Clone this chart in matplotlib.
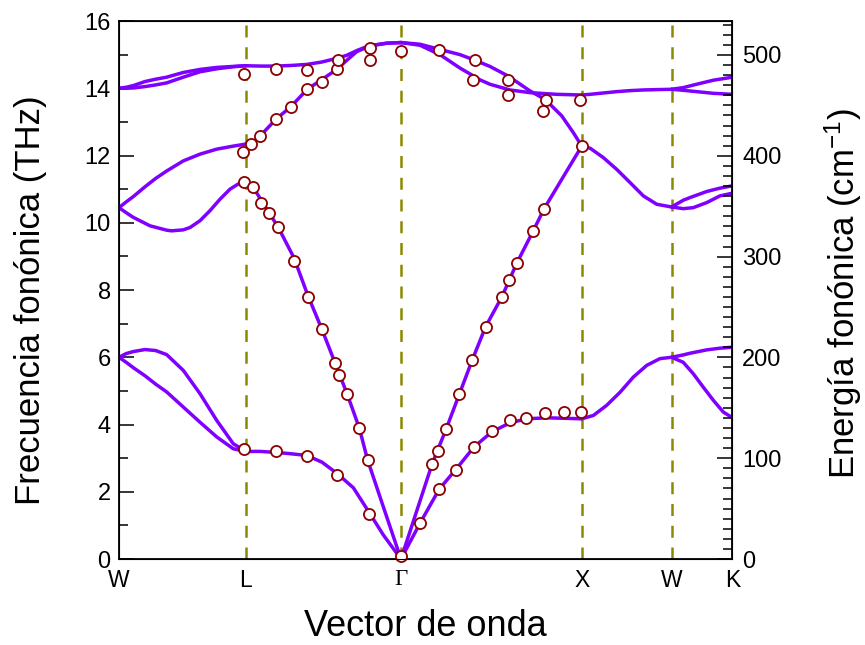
import matplotlib
matplotlib.use('Agg')
import matplotlib.pyplot as plt
from matplotlib.ticker import MultipleLocator

# puntos de alta simetria (distancia a lo largo del camino, 2pi/a)
sym_k = [0.0, 0.708, 1.575, 2.585, 3.087, 3.427]
sym_labels = ['W', 'L', 'Γ', 'X', 'W', 'K']

# W - L
wl_k = [0.0, 0.040, 0.080, 0.145, 0.205, 0.266, 0.359, 0.452, 0.546, 0.638, 0.708]
wl_opt1 = [14.0, 14.03, 14.08, 14.2, 14.27, 14.33, 14.47, 14.56, 14.62, 14.65, 14.67]
wl_opt2 = [14.0, 14.0, 14.01, 14.05, 14.1, 14.16, 14.33, 14.49, 14.58, 14.64, 14.67]
wl_opt3 = [10.45, 10.62, 10.78, 11.07, 11.32, 11.54, 11.84, 12.04, 12.19, 12.28, 12.34]
wl_ac1 = [6.0, 6.11, 6.17, 6.23, 6.2, 6.08, 5.61, 4.92, 4.12, 3.43, 3.2]
wl_ac2 = [6.0, 5.85, 5.69, 5.45, 5.2, 4.97, 4.52, 4.07, 3.63, 3.28, 3.2]
wl_opt4_k = [0.0, 0.040, 0.080, 0.173, 0.266, 0.294, 0.359, 0.397, 0.452, 0.508, 0.564, 0.620, 0.665, 0.708]
wl_opt4 = [10.45, 10.3, 10.16, 9.91, 9.78, 9.76, 9.79, 9.86, 10.06, 10.36, 10.7, 11.0, 11.15, 11.22]

# L - Gamma
lg_opt1_k = [0.708, 0.797, 0.881, 0.966, 1.049, 1.132, 1.216, 1.272, 1.328, 1.365, 1.402, 1.495, 1.575]
lg_opt1 = [14.67, 14.66, 14.66, 14.68, 14.71, 14.78, 14.89, 14.98, 15.12, 15.2, 15.27, 15.34, 15.36]
lg_opt2_k = [0.708, 0.750, 0.788, 0.877, 0.959, 1.052, 1.136, 1.216, 1.272, 1.328, 1.402, 1.495, 1.575]
lg_opt2 = [12.34, 12.40, 12.58, 13.08, 13.45, 13.97, 14.27, 14.56, 14.83, 15.09, 15.26, 15.34, 15.36]
lg_la_k = [0.708, 0.750, 0.797, 0.890, 0.978, 1.054, 1.132, 1.207, 1.275, 1.342, 1.389, 1.476, 1.575]
lg_la = [11.22, 11.05, 10.65, 9.86, 8.95, 7.85, 6.85, 5.83, 4.9, 3.9, 2.94, 1.56, 0.0]
lg_ta_k = [0.708, 0.788, 0.881, 0.961, 1.049, 1.134, 1.219, 1.309, 1.398, 1.476, 1.575]
lg_ta = [3.2, 3.2, 3.17, 3.13, 3.08, 2.88, 2.54, 2.12, 1.38, 0.72, 0.0]

# Gamma - X
gx_opt1_k = [1.575, 1.681, 1.789, 1.905, 1.990, 2.072, 2.175, 2.296, 2.380, 2.473, 2.538, 2.585]
gx_opt1 = [15.36, 15.31, 15.16, 15.0, 14.83, 14.65, 14.36, 13.92, 13.67, 13.18, 12.68, 12.28]
gx_opt2_k = [1.575, 1.681, 1.793, 1.905, 1.976, 2.017, 2.072, 2.184, 2.296, 2.445, 2.585]
gx_opt2 = [15.36, 15.28, 15.0, 14.6, 14.38, 14.25, 14.12, 13.95, 13.87, 13.82, 13.8]
gx_la_k = [1.575, 1.681, 1.750, 1.827, 1.901, 1.974, 2.048, 2.139, 2.222, 2.314, 2.374, 2.482, 2.585]
gx_la = [0.0, 1.72, 2.84, 3.86, 4.9, 5.93, 6.91, 7.8, 8.8, 9.76, 10.41, 11.37, 12.28]
gx_ta_k = [1.575, 1.681, 1.789, 1.881, 1.983, 2.082, 2.184, 2.277, 2.389, 2.585]
gx_ta = [0.0, 1.06, 2.08, 2.66, 3.33, 3.78, 4.05, 4.17, 4.2, 4.17]

# X - W
xw_k = [2.585, 2.631, 2.705, 2.780, 2.854, 2.929, 3.004, 3.087]
xw_opt1 = [13.8, 13.82, 13.86, 13.9, 13.93, 13.95, 13.96, 13.97]
xw_opt2 = [12.26, 12.22, 11.94, 11.59, 11.2, 10.8, 10.55, 10.47]
xw_ac_k = [2.585, 2.650, 2.724, 2.799, 2.873, 2.948, 3.022, 3.087]
xw_ac = [4.17, 4.27, 4.57, 4.96, 5.41, 5.76, 5.96, 6.0]

# W - K
wk_k = [3.087, 3.152, 3.227, 3.320, 3.427]
wk_opt1 = [13.97, 14.02, 14.12, 14.24, 14.33]
wk_opt2 = [13.97, 13.94, 13.9, 13.85, 13.82]
wk_opt3_k = [3.087, 3.152, 3.190, 3.283, 3.357, 3.427]
wk_opt3 = [10.47, 10.67, 10.75, 10.93, 11.03, 11.1]
wk_opt4_k = [3.087, 3.152, 3.208, 3.283, 3.357, 3.427]
wk_opt4 = [10.47, 10.42, 10.45, 10.6, 10.8, 10.88]
wk_ac1_k = [3.087, 3.152, 3.190, 3.283, 3.357, 3.427]
wk_ac1 = [6.0, 6.07, 6.12, 6.22, 6.27, 6.3]
wk_ac2_k = [3.087, 3.152, 3.208, 3.264, 3.320, 3.376, 3.427]
wk_ac2 = [6.0, 5.85, 5.51, 5.11, 4.72, 4.37, 4.2]

# datos experimentales
exp_k = [0.698, 0.700, 0.694, 0.736, 0.747, 0.789, 0.793, 0.840, 0.877, 0.877,
         0.890, 0.959, 0.978, 1.052, 1.052, 1.054, 1.136, 1.136, 1.216, 1.222,
         1.207, 1.229, 1.275, 1.342, 1.389, 1.398, 1.402, 1.402, 1.575, 1.575,
         0.700, 0.877, 1.049, 1.219,
         1.681, 1.750, 1.780, 1.789, 1.827, 1.881, 1.901, 1.974, 1.983, 2.048,
         2.082, 2.139, 2.180, 2.182, 2.222, 2.275, 2.314, 2.374, 2.380, 2.486,
         2.581, 2.585,
         1.789, 1.990, 1.976, 2.175, 2.175, 2.384, 2.367, 2.575]
exp_f = [14.41, 11.20, 12.11, 12.34, 11.07, 12.59, 10.58, 10.29, 14.57, 13.08,
         9.86, 13.45, 8.87, 14.55, 13.98, 7.80, 14.20, 6.85, 14.57, 14.85,
         5.83, 5.46, 4.90, 3.90, 2.94, 1.33, 15.21, 14.84, 15.12, 0.09,
         3.28, 3.21, 3.06, 2.51,
         1.06, 2.84, 3.20, 2.08, 3.86, 2.66, 4.90, 5.93, 3.33, 6.91,
         3.81, 7.80, 8.30, 4.12, 8.80, 4.19, 9.76, 10.41, 4.35, 4.37,
         4.37, 12.28,
         15.15, 14.83, 14.25, 14.24, 13.81, 13.65, 13.31, 13.64]

thz_to_cm = 33.356

branches = [
    (wl_k, wl_opt1), (wl_k, wl_opt2), (wl_k, wl_opt3), (wl_opt4_k, wl_opt4),
    (wl_k, wl_ac1), (wl_k, wl_ac2),
    (lg_opt1_k, lg_opt1), (lg_opt2_k, lg_opt2), (lg_la_k, lg_la), (lg_ta_k, lg_ta),
    (gx_opt1_k, gx_opt1), (gx_opt2_k, gx_opt2), (gx_la_k, gx_la), (gx_ta_k, gx_ta),
    (xw_k, xw_opt1), (xw_k, xw_opt2), (xw_ac_k, xw_ac),
    (wk_k, wk_opt1), (wk_k, wk_opt2), (wk_opt3_k, wk_opt3), (wk_opt4_k, wk_opt4),
    (wk_ac1_k, wk_ac1), (wk_ac2_k, wk_ac2),
]

plt.rcParams['font.family'] = ['Liberation Sans', 'DejaVu Sans']
plt.rcParams['mathtext.default'] = 'regular'

fig = plt.figure(figsize=(8.65, 6.45), dpi=100)
ax = fig.add_axes([0.1376, 0.1333, 0.7092, 0.8341])

# lineas verticales discontinuas en los puntos de simetria
for x in sym_k[1:-1]:
    ax.axvline(x, color='#8a8a00', lw=1.8, ls=(0, (4.8, 3.9)), zorder=1)

for k, f in branches:
    ax.plot(k, f, color='#7f00ff', lw=2.5, solid_capstyle='round',
            solid_joinstyle='round', zorder=2)

ax.plot(exp_k, exp_f, 'o', ms=8, mfc='white', mec='#8b0000', mew=1.3,
        zorder=3, clip_on=False)

ax.set_xlim(sym_k[0], sym_k[-1])
ax.set_ylim(0, 16)
ax.set_xticks(sym_k)
ax.set_xticklabels(sym_labels)
ax.get_xticklabels()[2].set_family('Liberation Serif')
ax.tick_params(axis='x', length=0, labelsize=16.5, pad=7)
ax.yaxis.set_major_locator(MultipleLocator(2))
ax.yaxis.set_minor_locator(MultipleLocator(1))
ax.tick_params(axis='y', which='major', direction='in', length=11, width=1.1,
               labelsize=17, pad=6)
ax.tick_params(axis='y', which='minor', direction='in', length=6.5, width=1.1)
for s in ax.spines.values():
    s.set_linewidth(1.3)

ax.set_xlabel('Vector de onda', fontsize=26)
ax.xaxis.set_label_coords(0.5, -0.093)
ax.set_ylabel('Frecuencia fonónica (THz)', fontsize=25)
ax.yaxis.set_label_coords(-0.118, 0.481)

# eje derecho en cm-1
ax2 = ax.twinx()
ax2.set_ylim(0, 16 * thz_to_cm)
ax2.yaxis.set_major_locator(MultipleLocator(100))
ax2.yaxis.set_minor_locator(MultipleLocator(10))
ax2.tick_params(axis='y', which='major', direction='in', length=11, width=1.1,
                labelsize=17, pad=7)
ax2.tick_params(axis='y', which='minor', direction='in', length=6.5, width=1.1)
ax2.set_ylabel('Energía fonónica (cm$^{-1}$)', fontsize=25)
ax2.yaxis.set_label_coords(1.146, 0.494)

fig.savefig('out.png', dpi=100)
